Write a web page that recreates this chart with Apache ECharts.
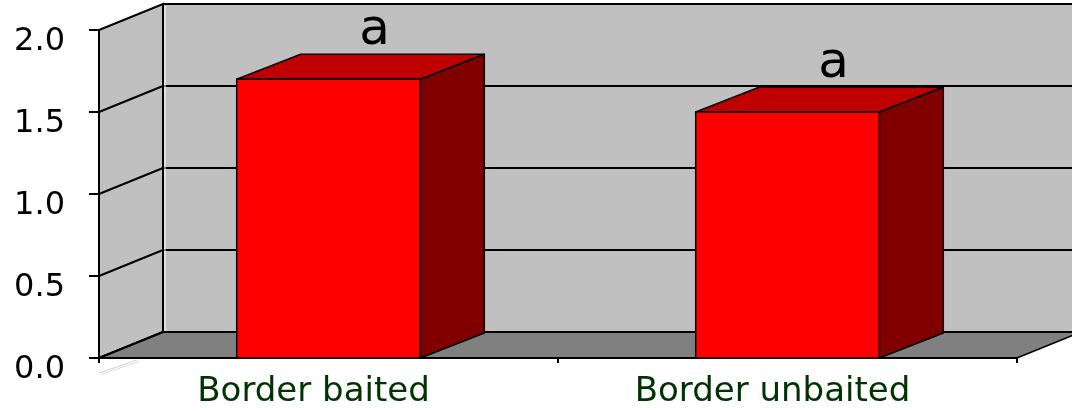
<!DOCTYPE html>
<html>
<head>
<meta charset="utf-8">
<script src="https://cdn.jsdelivr.net/npm/echarts@6/dist/echarts.min.js"></script>
<style>
html,body{margin:0;padding:0;background:#fff;}
#chart{width:1072px;height:412px;}
</style>
</head>
<body>
<div id="chart"></div>
<script>
// ---- data ----
const categories = ['Border baited', 'Border unbaited'];
const values = [1.70, 1.50];
const letters = ['a', 'a'];
const yTicks = [0, 0.5, 1.0, 1.5, 2.0];

// ---- style constants ----
const WALL_DX = 64, WALL_DY = -26;
const BAR_DX = 64, BAR_DY = -25;
const BAR_RATIO = 0.4;

const chart = echarts.init(document.getElementById('chart'), null, {renderer: 'canvas'});

function renderWalls(params, api) {
  const cs = params.coordSys;
  const x0 = cs.x, x1 = cs.x + cs.width;
  const yBot = api.coord([0, yTicks[0]])[1];
  const yTop = api.coord([0, yTicks[yTicks.length - 1]])[1];
  const children = [];
  children.push({type: 'polygon', shape: {points: [[x0, yTop], [x0 + WALL_DX, yTop + WALL_DY], [x0 + WALL_DX, yBot + WALL_DY], [x0, yBot]]},
    style: {fill: '#C0C0C0', stroke: '#000', lineWidth: 2}});
  children.push({type: 'polygon', shape: {points: [[x0 + WALL_DX, yTop + WALL_DY], [x1 + WALL_DX + 40, yTop + WALL_DY], [x1 + WALL_DX + 40, yBot + WALL_DY], [x0 + WALL_DX, yBot + WALL_DY]]},
    style: {fill: '#C0C0C0', stroke: '#000', lineWidth: 2}});
  children.push({type: 'polygon', shape: {points: [[x0, yBot], [x0 + WALL_DX, yBot + WALL_DY], [x1 + WALL_DX, yBot + WALL_DY], [x1, yBot]]},
    style: {fill: '#808080', stroke: '#000', lineWidth: 1.5}});
  for (let k = 1; k < yTicks.length - 1; k++) {
    const y = api.coord([0, yTicks[k]])[1];
    children.push({type: 'line', shape: {x1: x0 + WALL_DX, y1: y + WALL_DY, x2: x1 + WALL_DX + 40, y2: y + WALL_DY}, style: {stroke: '#000', lineWidth: 2}});
    children.push({type: 'line', shape: {x1: x0, y1: y, x2: x0 + WALL_DX, y2: y + WALL_DY}, style: {stroke: '#000', lineWidth: 2}});
  }
  children.push({type: 'line', shape: {x1: x0 + WALL_DX, y1: yBot + WALL_DY, x2: x1 + WALL_DX + 40, y2: yBot + WALL_DY}, style: {stroke: '#000', lineWidth: 2}});
  children.push({type: 'line', shape: {x1: x0, y1: yBot, x2: x0 + WALL_DX, y2: yBot + WALL_DY}, style: {stroke: '#000', lineWidth: 2}});
  children.push({type: 'line', shape: {x1: x0 + WALL_DX + 2, y1: yTop + WALL_DY + 2, x2: x0 + WALL_DX + 2, y2: yBot + WALL_DY - 1}, style: {stroke: '#fff', lineWidth: 1}});
  children.push({type: 'line', shape: {x1: x0, y1: yBot + 15, x2: x0 + 38, y2: yBot + 2}, style: {stroke: '#cfcfcf', lineWidth: 1}});
  children.push({type: 'line', shape: {x1: x0 + 2, y1: yBot + 16.5, x2: x0 + 40, y2: yBot + 3.5}, style: {stroke: '#dcdcdc', lineWidth: 1}});
  return {type: 'group', children: children};
}

function renderBar(params, api) {
  const i = api.value(0);
  const v = api.value(1);
  const top = api.coord([i, v]);
  const base = api.coord([i, 0]);
  const w = api.size([1, 0])[0] * BAR_RATIO;
  const xl = top[0] - w / 2, xr = top[0] + w / 2;
  const yt = top[1], yb = base[1];
  const st = {stroke: '#000', lineWidth: 1.5, lineJoin: 'round'};
  return {type: 'group', children: [
    {type: 'polygon', shape: {points: [[xr, yt], [xr + BAR_DX, yt + BAR_DY], [xr + BAR_DX, yb + BAR_DY], [xr, yb]]}, style: Object.assign({fill: '#800000'}, st)},
    {type: 'polygon', shape: {points: [[xl, yt], [xl + BAR_DX, yt + BAR_DY], [xr + BAR_DX, yt + BAR_DY], [xr, yt]]}, style: Object.assign({fill: '#C00000'}, st)},
    {type: 'rect', shape: {x: xl, y: yt, width: w, height: yb - yt}, style: Object.assign({fill: '#FF0000'}, st)},
    {type: 'text', style: {text: letters[params.dataIndex], x: top[0] + 46, y: yt + BAR_DY + 2, align: 'center', verticalAlign: 'bottom',
      font: '50px "DejaVu Sans"', fill: '#000'}}
  ]};
}

chart.setOption({
  animation: false,
  backgroundColor: '#fff',
  grid: {left: 99, right: 55, top: 30, bottom: 54, containLabel: false},
  xAxis: {
    type: 'category', data: categories, z: 5,
    axisLine: {show: true, lineStyle: {color: '#000', width: 2}},
    axisTick: {show: true, length: 5, lineStyle: {color: '#000', width: 2}},
    axisLabel: {color: '#003300', fontFamily: 'DejaVu Sans', fontSize: 34, margin: 17, padding: [0, 30, 0, 0]},
    splitLine: {show: false}
  },
  yAxis: {
    type: 'value', min: yTicks[0], max: yTicks[yTicks.length - 1], interval: 0.5, z: 5,
    axisLine: {show: true, lineStyle: {color: '#000', width: 2}},
    axisTick: {show: true, length: 10, lineStyle: {color: '#000', width: 2}},
    axisLabel: {color: '#000', fontFamily: 'DejaVu Sans', fontSize: 32, margin: 34, verticalAlign: 'top', lineHeight: 24,
      formatter: function (v) { return v.toFixed(1); }},
    splitLine: {show: false}
  },
  series: [
    {type: 'custom', name: 'walls', z: 1, silent: true, clip: false, renderItem: renderWalls, data: [[0, 0]]},
    {type: 'custom', name: 'bars', z: 6, clip: false, renderItem: renderBar,
      data: values.map(function (v, i) { return [i, v]; })}
  ]
});
</script>
</body>
</html>
